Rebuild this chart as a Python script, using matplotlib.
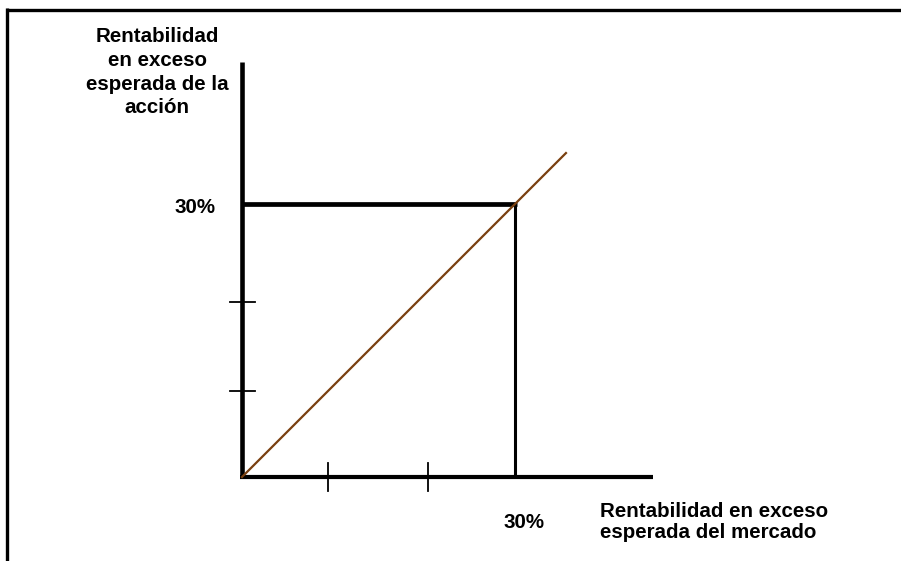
import matplotlib.pyplot as plt
from matplotlib.lines import Line2D

# Data (percent units)
market_excess = [0, 35.6]          # security market line, x
stock_excess = [0, 35.6]           # security market line, y
target = 30                        # 30% reference point
x_ticks = [9.4, 20.4]
y_ticks = [9.5, 19.2]
x_axis_end = 45.2
y_axis_end = 45.6

plt.rcParams['font.family'] = ['Liberation Sans', 'DejaVu Sans']
plt.rcParams['font.weight'] = 'bold'

fig = plt.figure(figsize=(9.01, 5.61), dpi=100)
ax = fig.add_axes([0, 0, 1, 1])
ax.set_xlim(-242 / 9.1, (901 - 242) / 9.1)
ax.set_ylim(-84 / 9.1, 477 / 9.1)
ax.axis('off')

# frame (only top and left edges visible)
fig.add_artist(Line2D([0.0067, 1], [0.9827, 0.9827], color='black', lw=2.4,
                      solid_capstyle='butt', transform=fig.transFigure))
fig.add_artist(Line2D([0.0083, 0.0083], [0, 0.985], color='black', lw=2.4,
                      solid_capstyle='butt', transform=fig.transFigure))

# axes
ax.plot([0, 0], [0, y_axis_end], color='black', lw=3.3, solid_capstyle='butt')
ax.plot([-0.2, x_axis_end], [0, 0], color='black', lw=3.0, solid_capstyle='butt')

# ticks
for t in x_ticks:
    ax.plot([t, t], [-1.5, 1.5], color='black', lw=1.3)
for t in y_ticks:
    ax.plot([-1.3, 1.4], [t, t], color='black', lw=1.3)

# 30% guide lines
ax.plot([0, target + 0.2], [target, target], color='black', lw=3.4, solid_capstyle='butt')
ax.plot([target, target], [0, target], color='black', lw=2.2, solid_capstyle='butt')

# diagonal
ax.plot(market_excess, stock_excess, color='#7a4010', lw=1.6)

# labels
fs = 14.8
ax.text(-9.3, 44.5, 'Rentabilidad\nen exceso\nesperada de la\nacción', ha='center', va='center',
        fontsize=fs, fontweight='bold', linespacing=1.33)
ax.text(-5.2, 29.6, '30%', ha='center', va='center', fontsize=fs, fontweight='bold')
ax.text(31, -4.95, '30%', ha='center', va='center', fontsize=fs, fontweight='bold')
ax.text(39.3, -4.95, 'Rentabilidad en exceso\nesperada del mercado', ha='left', va='center',
        fontsize=fs, fontweight='bold', linespacing=1.1)

fig.savefig('out.png', dpi=100)
